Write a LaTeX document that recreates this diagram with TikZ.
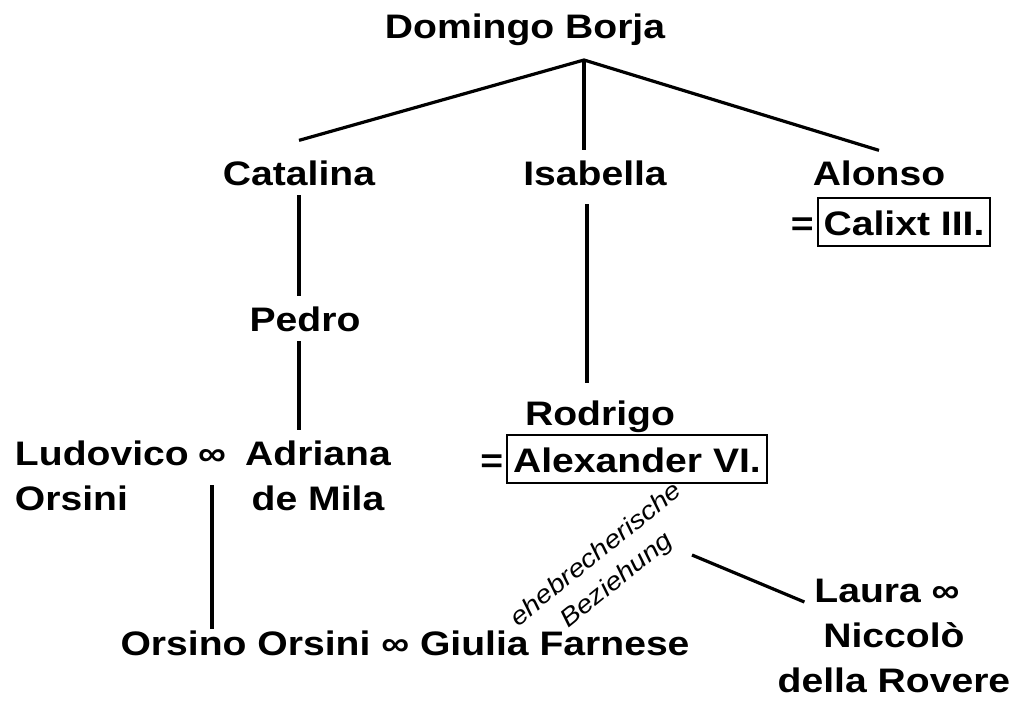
\documentclass[tikz,border=0pt]{standalone}
\usepackage{fontspec}
\setmainfont{Liberation Sans}[FakeStretch=1.15]
\usepackage{tikz}

\begin{document}
\begin{tikzpicture}[x=1pt, y=-1pt,  % one unit = one pixel, y runs downwards
    person/.style={font=\fontsize{34}{45}\selectfont\bfseries, inner sep=0pt, outer sep=10pt, anchor=base},
    pope/.style={person, draw, line width=2pt, inner xsep=6pt, inner ysep=3pt, outer sep=0pt, text height=34pt, text depth=8pt},
    note/.style={font=\fontsize{25}{33}\selectfont\itshape, inner sep=0pt, align=center},
    tie/.style={line width=3.2pt}]
    % fix the frame
    \useasboundingbox (0,0) rectangle (1029,720);

    % first two generations
    \node[person] (domingo) at (525,38) {Domingo Borja};
    \node[person] (catalina) at (299,185) {Catalina};
    \node[person] (isabella) at (595,185) {Isabella};
    \node[person] (alonso) at (879,185) {Alonso};
    \node[pope] (calixt) at (904,235) {Calixt III.};
    \node[person, anchor=base east, outer sep=0pt] (eqcalixt) at ([xshift=-4pt]calixt.base west) {=};

    % grandchildren
    \node[person] (pedro) at (305,331) {Pedro};
    \node[person] (rodrigo) at (600,425) {Rodrigo};
    \node[pope] (alexander) at (637,472) {Alexander VI.};
    \node[person, anchor=base east, outer sep=0pt] (eqalexander) at ([xshift=-4pt]alexander.base west) {=};

    % marriages (base of a two-line node is its last line)
    \node[person, anchor=base west, align=left] (ludovico) at (5,510) {Ludovico\\Orsini};
    \node[person, outer ysep=20pt] (wedding) at (212,465) {∞};
    \node[person, align=center] (adriana) at (318,510) {Adriana\\de Mila};
    \node[person, outer sep=1pt] (orsino) at (405,655) {Orsino Orsini ∞ Giulia Farnese};
    \node[person] (laura) at (887,602) {Laura ∞};
    \node[person, align=center] (niccolo) at (894,692) {Niccolò\\della Rovere};

    \node[note, rotate=39] (affair) at (607,568) {ehebrecherische\\Beziehung};

    % lines of descent
    \coordinate (fork) at (584,60);
    \draw[tie] ([yshift=10pt]catalina.north) -- (fork) -- (alonso.north);
    \draw[tie] (fork) -- (fork |- isabella.north);
    \draw[tie] (catalina.south) -- (catalina.south |- pedro.north);
    \draw[tie] (catalina.south |- pedro.south) -- (catalina.south |- adriana.north);
    \draw[tie, shorten <=9pt, shorten >=7pt] ([xshift=-8pt]isabella.south) -- ([xshift=-8pt]isabella.south |- rodrigo.north);
    \draw[tie] (wedding.south) -- (wedding.south |- orsino.north);

    % Alexander and Giulia
    \coordinate (affairend) at (692,555);
    \draw[tie] (affairend) -- (laura.base west);
\end{tikzpicture}
\end{document}
